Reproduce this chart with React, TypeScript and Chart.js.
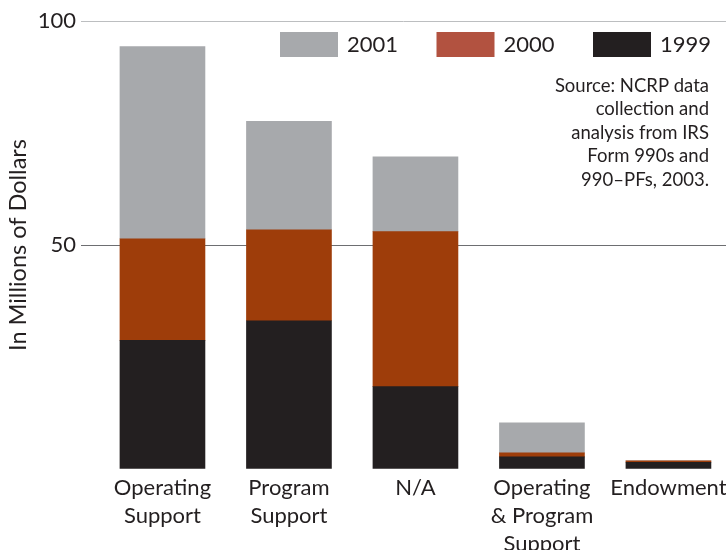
import React, { useEffect, useRef } from "react";
import { Chart, registerables } from "chart.js";

Chart.register(...registerables);

const categories: string[][] = [
  ["Operating", "Support"],
  ["Program", "Support"],
  ["N/A"],
  ["Operating", "& Program", "Support"],
  ["Endowment"],
];
const seriesLabels = ["1999", "2000", "2001"];
const values1999 = [28.7, 33.1, 18.4, 2.7, 1.5];
const values2000 = [22.7, 20.3, 34.6, 0.9, 0.3];
const values2001 = [42.9, 24.2, 16.7, 6.7, 0];
const barColors = ["#231f20", "#9e3d0a", "#a7a9ac"];
const legendColors = ["#231f20", "#b25240", "#a7a9ac"];
const yTicks = [0, 50, 100];
const sourceLines = [
  "Source: NCRP data",
  "collection and",
  "analysis from IRS",
  "Form 990s and",
  "990–PFs, 2003.",
];

const FONT = "Lato, 'Open Sans', sans-serif";

const legendPlugin = {
  id: "customLegend",
  afterDraw(chart: any) {
    const ctx = chart.ctx;
    const ds = chart.data.datasets;
    ctx.save();
    ctx.font = `22px ${FONT}`;
    ctx.textBaseline = "middle";
    ctx.textAlign = "left";
    let x = 280;
    const y = 32;
    for (let i = ds.length - 1; i >= 0; i--) {
      ctx.fillStyle = legendColors[i];
      ctx.fillRect(x, y, 58, 25);
      ctx.fillStyle = "#231f20";
      ctx.fillText(ds[i].label, x + 67, y + 13);
      x += 156.5;
    }
    ctx.font = `18.5px ${FONT}`;
    ctx.textAlign = "right";
    ctx.fillStyle = "#231f20";
    sourceLines.forEach((line, i) => {
      ctx.fillText(line, 709, 86 + i * 23.5);
    });
    ctx.restore();
  },
};

export default function App() {
  const ref = useRef<HTMLCanvasElement | null>(null);
  useEffect(() => {
    if (!ref.current) return;
    const series = [values1999, values2000, values2001];
    const chart = new Chart(ref.current, {
      type: "bar",
      data: {
        datasets: series.map((vals, si) => ({
          label: seriesLabels[si],
          data: vals.map((v, i) => ({ x: i, y: v })),
          backgroundColor: barColors[si],
          borderWidth: 0,
          barThickness: 85,
        })),
      },
      options: {
        animation: false,
        responsive: false,
        maintainAspectRatio: false,
        layout: { padding: { top: 21, right: 0, left: 0, bottom: 0 } },
        plugins: {
          legend: { display: false },
          tooltip: { enabled: false },
        },
        scales: {
          x: {
            type: "linear",
            stacked: true,
            offset: false,
            min: -0.644,
            max: 4.455,
            grid: { display: false, drawTicks: false, offset: false },
            border: { display: false },
            afterBuildTicks: (scale: any) => {
              scale.ticks = categories.map((_, i) => ({ value: i }));
            },
            afterFit: (scale: any) => {
              scale.height = 81;
              scale.paddingLeft = 0;
              scale.paddingRight = 0;
            },
            ticks: {
              autoSkip: false,
              maxRotation: 0,
              minRotation: 0,
              padding: 5,
              color: "#231f20",
              font: { family: FONT, size: 22, lineHeight: 1.28 },
              callback: (v: any) => categories[Math.round(Number(v))] ?? "",
            },
          },
          y: {
            stacked: true,
            min: 0,
            max: 100,
            afterBuildTicks: (scale: any) => {
              scale.ticks = yTicks.map((v) => ({ value: v }));
            },
            afterFit: (scale: any) => {
              scale.width = 81;
            },
            grid: {
              drawTicks: false,
              color: (c: any) =>
                c.tick && c.tick.value === 100
                  ? "#bcbec0"
                  : c.tick && c.tick.value === 50
                  ? "#6d6e71"
                  : "rgba(0,0,0,0)",
              lineWidth: 1,
            },
            border: { display: false },
            ticks: {
              padding: 5,
              color: "#231f20",
              font: { family: FONT, size: 22 },
              callback: (v: any) => (Number(v) === 0 ? "" : String(v)),
            },
            title: {
              display: true,
              text: "In Millions of Dollars",
              color: "#231f20",
              font: { family: FONT, size: 23.5 },
              padding: { top: 4, bottom: 0 },
            },
          },
        },
      },
      plugins: [legendPlugin],
    });
    return () => chart.destroy();
  }, []);
  return (
    <div style={{ position: "fixed", left: 0, top: 0, width: 726, height: 550, background: "#fff" }}>
      <canvas ref={ref} width={726} height={550} style={{ width: 726, height: 550 }} />
    </div>
  );
}
